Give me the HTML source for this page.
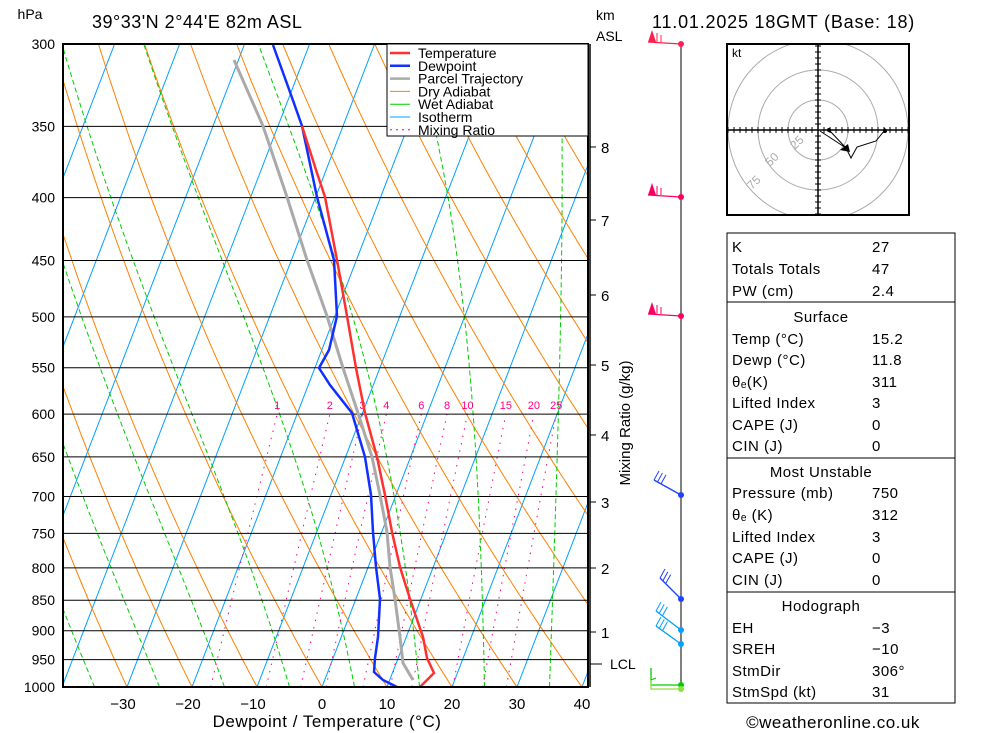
<!DOCTYPE html>
<html><head><meta charset="utf-8"><style>
body{margin:0;background:#fff;}
svg{display:block;font-family:"Liberation Sans",sans-serif;}
</style></head><body>
<svg id="s" width="1000" height="733" viewBox="0 0 1000 733" xmlns="http://www.w3.org/2000/svg">
<defs><clipPath id="c"><rect x="63" y="44" width="525" height="643"/></clipPath></defs>
<g id="grid" clip-path="url(#c)"></g>
<g id="fg"></g>
</svg>
<script>
const NS="http://www.w3.org/2000/svg";
const grid=document.getElementById('grid'),fg=document.getElementById('fg');
function Y(p){return 44+Math.log(p/300)/Math.log(1000/300)*643;}
function X(T,p){return 322+6.5*T+0.385*(687-Y(p));}
function el(par,tag,a,txt){const e=document.createElementNS(NS,tag);for(const k in a)e.setAttribute(k,a[k]);if(txt!==undefined)e.textContent=txt;par.appendChild(e);return e;}
function pl(par,pts,a){a.points=pts.map(q=>q[0].toFixed(1)+','+q[1].toFixed(1)).join(' ');a.fill='none';el(par,'polyline',a);}
// isotherms
for(let T=-120;T<=50;T+=10){pl(grid,[[X(T,1000),Y(1000)],[X(T,300),Y(300)]],{stroke:'#00a0ff','stroke-width':1});}
// dry adiabats
for(let th=-40;th<=130;th+=10){const pts=[];for(let p=1000;p>=300;p-=10){const T=(th+273.15)*Math.pow(p/1000,0.286)-273.15;pts.push([X(T,p),Y(p)]);}pl(grid,pts,{stroke:'#ff8000','stroke-width':1});}
// wet adiabats
function es(T){return 6.112*Math.exp(17.67*(T-273.15)/(T-29.65));}
for(let t0=-35;t0<=45;t0+=10){let T=t0+273.15;const pts=[[X(t0,1000),Y(1000)]];for(let p=1000;p>300;p-=2){const e=es(T),rs=0.622*e/(p-e);const d=(287*T+2.5e6*rs)/(p*(1004+2.5e6*2.5e6*rs*0.622/(287*T*T)));T-=d*2;pts.push([X(T-273.15,p-2),Y(p-2)]);}pl(grid,pts,{stroke:'#00cc00','stroke-width':1,'stroke-dasharray':'5,3'});}
// mixing ratio
const ws=[1,2,3,4,6,8,10,15,20,25];
for(const w of ws){const pts=[];for(let p=1000;p>=600;p-=10){const e=w/1000*p/(0.622+w/1000),l=Math.log(e/6.112),Td=243.5*l/(17.67-l);pts.push([X(Td,p),Y(p)]);}pl(grid,pts,{stroke:'#ff0080','stroke-width':1,'stroke-dasharray':'1.5,6'});
const e=w/1000*600/(0.622+w/1000),l=Math.log(e/6.112),Td=243.5*l/(17.67-l);el(grid,'text',{x:X(Td,600),y:409,'font-size':11,fill:'#ff0080','text-anchor':'middle'},String(w));}
// isobars
const ps=[300,350,400,450,500,550,600,650,700,750,800,850,900,950,1000];
for(const p of ps){el(grid,'line',{x1:63,x2:588,y1:Y(p),y2:Y(p),stroke:'#000','stroke-width':1});
 el(fg,'text',{x:55,y:Y(p)+5,'font-size':14,'text-anchor':'end'},String(p));}
// profiles
const par=[[413,680],[403,663],[400,637],[395,599],[390,567],[387,532],[380,495],[372,457],[358,413],[343,368],[327,316],[307,260],[287,197],[263,126],[234,60]];
pl(grid,par,{stroke:'#aaa','stroke-width':3});
const dew=[[397,687],[383,680],[374,672],[375,658],[378,637],[380,599],[376,567],[373,532],[371,495],[365,457],[352,413],[330,385],[319,368],[329,350],[337,316],[334,260],[317,197],[302,126],[290,92],[273,45]];
pl(grid,dew,{stroke:'#1030ff','stroke-width':2.5});
const tem=[[420,687],[434,673],[427,658],[423,637],[410,599],[400,567],[392,532],[385,495],[377,457],[365,413],[356,368],[347,316],[337,260],[325,197],[317,173],[302,126]];
pl(grid,tem,{stroke:'#ff3030','stroke-width':2.5});
// frame
el(fg,'rect',{x:63,y:44,width:525,height:643,fill:'none',stroke:'#000','stroke-width':2});
// legend
el(fg,'rect',{x:387,y:44,width:201,height:92,fill:'#fff',stroke:'#000','stroke-width':1});
const leg=[['Temperature','#ff3030',2.5,''],['Dewpoint','#1030ff',2.5,''],['Parcel Trajectory','#aaa',2.5,''],['Dry Adiabat','#ff8000',1,''],['Wet Adiabat','#00cc00',1,''],['Isotherm','#00a0ff',1,''],['Mixing Ratio','#ff0080',1,'2,4']];
leg.forEach((l,i)=>{const y=53+i*12.8;el(fg,'line',{x1:390,x2:410,y1:y,y2:y,stroke:l[1],'stroke-width':l[2],'stroke-dasharray':l[3]});el(fg,'text',{x:418,y:y+5,'font-size':14},l[0]);});
// bottom labels
[-30,-20,-10,0,10,20,30,40].forEach(t=>{el(fg,'text',{x:322+6.5*t-(t<0?4:0),y:709,'font-size':15,'text-anchor':'middle'},t<0?'\u2212'+(-t):String(t));});
el(fg,'text',{x:327,y:727,'font-size':17,'text-anchor':'middle','letter-spacing':'0.5'},'Dewpoint / Temperature (\u00B0C)');
el(fg,'text',{x:30,y:19,'font-size':14,'text-anchor':'middle'},'hPa');
el(fg,'text',{x:92,y:28,'font-size':18,'letter-spacing':'0.5'},"39\u00B033'N  2\u00B044'E  82m  ASL");
el(fg,'text',{x:596,y:20,'font-size':14},'km');
el(fg,'text',{x:596,y:41,'font-size':14},'ASL');
el(fg,'text',{x:652,y:28,'font-size':18,'letter-spacing':'0.8'},'11.01.2025  18GMT  (Base: 18)');
// km axis
el(fg,'line',{x1:590,x2:590,y1:44,y2:687,stroke:'#000','stroke-width':1.5});
[[8,147],[7,220],[6,295],[5,365],[4,435],[3,502],[2,568],[1,632]].forEach(k=>{el(fg,'line',{x1:590,x2:596,y1:k[1],y2:k[1],stroke:'#000'});el(fg,'text',{x:601,y:k[1]+6,'font-size':15},String(k[0]));});
el(fg,'line',{x1:590,x2:602,y1:664,y2:664,stroke:'#000'});el(fg,'text',{x:610,y:669,'font-size':14},'LCL');
el(fg,'text',{x:0,y:0,'font-size':15,'text-anchor':'middle',transform:'translate(630,423) rotate(-90)'},'Mixing Ratio (g/kg)');
// wind line
el(fg,'line',{x1:681,x2:681,y1:44,y2:687,stroke:'#000','stroke-width':1});
function barb(y,col,dx,dy,n){el(fg,'line',{x1:681,y1:y,x2:681+dx,y2:y+dy,stroke:col,'stroke-width':1.3});el(fg,'circle',{cx:681,cy:y,r:3,fill:col});}
[[44,'#ff2050'],[197,'#ff0060'],[316,'#ff0060']].forEach(b=>{barb(b[0],b[1],-33,-2);el(fg,'polygon',{points:`${648},${b[0]-2} ${652},${b[0]-14} ${656},${b[0]-2}`,fill:b[1]});el(fg,'line',{x1:657,y1:b[0]-2,x2:657,y2:b[0]-11,stroke:b[1]});el(fg,'line',{x1:661,y1:b[0]-2,x2:661,y2:b[0]-9,stroke:b[1]});});
function fb(y,col,x2,y2){barb(y,col,x2-681,y2-y);const ang=Math.atan2(y2-y,x2-681);for(let i=0;i<3;i++){const f=i*4;const bx=x2-Math.cos(ang)*f,by=y2-Math.sin(ang)*f;el(fg,'line',{x1:bx,y1:by,x2:bx+5,y2:by-9,stroke:col});}}
fb(495,'#2040ff',654,480);fb(599,'#2040ff',660,578);fb(630,'#00a0ff',656,611);fb(644,'#00a0ff',656,626);
el(fg,'polyline',{points:'681,685 651,685 651,668',fill:'none',stroke:'#00cc00','stroke-width':1.3});el(fg,'line',{x1:651,y1:680,x2:656,y2:678,stroke:'#00cc00'});
el(fg,'polyline',{points:'681,689 651,689 651,680',fill:'none',stroke:'#90e040','stroke-width':1.3});
el(fg,'circle',{cx:681,cy:685,r:3,fill:'#00cc00'});el(fg,'circle',{cx:681,cy:689,r:3,fill:'#90e040'});
// hodograph
const h=el(fg,'g',{});
el(h,'clipPath',{id:'hc'});document.getElementById('hc').appendChild(Object.assign(document.createElementNS(NS,'rect'),{}));
const hc=document.getElementById('hc').firstChild;hc.setAttribute('x',727);hc.setAttribute('y',44);hc.setAttribute('width',182);hc.setAttribute('height',171);
const hg=el(fg,'g',{'clip-path':'url(#hc)'});
[30,60,90].forEach(r=>el(hg,'circle',{cx:818,cy:130,r:r,fill:'none',stroke:'#aaa','stroke-width':1}));
el(hg,'line',{x1:727,x2:909,y1:130,y2:130,stroke:'#000','stroke-width':1.5});el(hg,'line',{x1:818,x2:818,y1:44,y2:215,stroke:'#000','stroke-width':1.5});
for(let i=-15;i<=15;i++){el(hg,'line',{x1:818+i*6,x2:818+i*6,y1:127,y2:133,stroke:'#000'});el(hg,'line',{x1:815,x2:821,y1:130+i*6,y2:130+i*6,stroke:'#000'});}
el(fg,'rect',{x:727,y:44,width:182,height:171,fill:'none',stroke:'#000','stroke-width':2});
el(fg,'text',{x:732,y:57,'font-size':12},'kt');
[['25',795,150],['50',770,167],['75',752,190]].forEach(t=>el(fg,'text',{x:t[1],y:t[2],'font-size':12,fill:'#aaa',transform:`rotate(-45 ${t[1]} ${t[2]})`},t[0]));
el(fg,'polyline',{points:'820,131 846,148 829,130',fill:'none',stroke:'#000'});
el(fg,'polyline',{points:'846,148 851,158 857,147 876,141 884,131 885,128',fill:'none',stroke:'#000'});
el(fg,'polygon',{points:'840,150 848,144 850,152',fill:'#000'});
el(fg,'circle',{cx:829,cy:130,r:2,fill:'#000'});el(fg,'circle',{cx:885,cy:131,r:2,fill:'#000'});
// table
const boxes=[[233,302],[302,458],[458,592],[592,703]];
boxes.forEach(b=>el(fg,'rect',{x:727,y:b[0],width:228,height:b[1]-b[0],fill:'none',stroke:'#000','stroke-width':1}));
const rows=[['K','27',246],['Totals Totals','47',268],['PW (cm)','2.4',290],
['Temp (\u00B0C)','15.2',338],['Dewp (\u00B0C)','11.8',359],['\u03B8\u2091(K)','311',381],['Lifted Index','3',402],['CAPE (J)','0',424],['CIN (J)','0',445],
['Pressure (mb)','750',492],['\u03B8\u2091 (K)','312',514],['Lifted Index','3',536],['CAPE (J)','0',557],['CIN (J)','0',579],
['EH','\u22123',627],['SREH','\u221210',648],['StmDir','306\u00B0',670],['StmSpd (kt)','31',691]];
rows.forEach(r=>{el(fg,'text',{x:732,y:r[2]+6,'font-size':15,'letter-spacing':'0.5'},r[0]);el(fg,'text',{x:872,y:r[2]+6,'font-size':15,'letter-spacing':'0.5'},r[1]);});
[['Surface',316],['Most Unstable',471],['Hodograph',605]].forEach(h=>el(fg,'text',{x:821,y:h[1]+6,'font-size':15,'text-anchor':'middle','letter-spacing':'0.5'},h[0]));
el(fg,'text',{x:833,y:728,'font-size':17,'text-anchor':'middle','letter-spacing':'0.5'},'\u00A9weatheronline.co.uk');
</script>
</body></html>
